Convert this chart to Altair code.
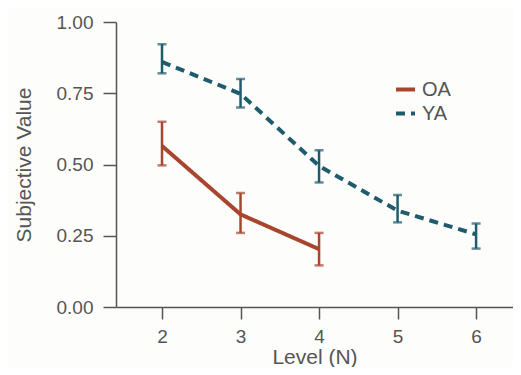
import altair as alt
import pandas as pd

levels_oa = [2, 3, 4]
mean_oa = [0.565, 0.325, 0.203]
lo_oa = [0.497, 0.26, 0.146]
hi_oa = [0.65, 0.40, 0.26]

levels_ya = [2, 3, 4, 5, 6]
mean_ya = [0.86, 0.748, 0.495, 0.338, 0.255]
lo_ya = [0.82, 0.70, 0.437, 0.297, 0.205]
hi_ya = [0.922, 0.80, 0.55, 0.393, 0.293]

rows = []
for g, lv, m, lo, hi in [("OA", levels_oa, mean_oa, lo_oa, hi_oa), ("YA", levels_ya, mean_ya, lo_ya, hi_ya)]:
    for a, b, c, d in zip(lv, m, lo, hi):
        rows.append({"group": g, "level": a, "value": b, "lo": c, "hi": d})
df = pd.DataFrame(rows)

colors = ["#a9442f", "#1e5b6d"]
font = "Liberation Sans"
txt = "#555555"

xs = alt.Scale(domain=[1.414, 6.47], nice=False, zero=False)
ys = alt.Scale(domain=[0, 1], nice=False)
cs = alt.Scale(domain=["OA", "YA"], range=colors)

base = alt.Chart(df)

lines = base.mark_line(strokeWidth=4).encode(
    x=alt.X("level:Q", scale=xs, title="Level (N)",
            axis=alt.Axis(values=[2, 3, 4, 5, 6], format="d", tickSize=12,
                          labelPadding=8, titlePadding=0)),
    y=alt.Y("value:Q", scale=ys, title="Subjective Value",
            axis=alt.Axis(values=[0, 0.25, 0.5, 0.75, 1.0], format=".2f",
                          tickSize=13, labelPadding=10, titlePadding=22)),
    color=alt.Color("group:N", scale=cs, title=None,
                    legend=alt.Legend(orient="none", legendX=278, legendY=56,
                                      symbolType="stroke", symbolStrokeWidth=4,
                                      symbolSize=361, labelFontSize=20,
                                      labelFont=font, labelColor=txt,
                                      rowPadding=2, labelOffset=5)),
    strokeDash=alt.StrokeDash("group:N", scale=alt.Scale(domain=["OA", "YA"], range=[[1, 0], [9, 6]]), legend=None),
)

rules = base.mark_rule(strokeWidth=2.5).encode(
    x="level:Q", y="lo:Q", y2="hi:Q",
    color=alt.Color("group:N", scale=cs, legend=None),
)
caps_hi = base.mark_tick(thickness=2.5, size=9, orient="horizontal").encode(
    x="level:Q", y="hi:Q", color=alt.Color("group:N", scale=cs, legend=None))
caps_lo = base.mark_tick(thickness=2.5, size=9, orient="horizontal").encode(
    x="level:Q", y="lo:Q", color=alt.Color("group:N", scale=cs, legend=None))

chart = alt.layer(lines, rules, caps_hi, caps_lo).properties(
    width=397, height=285,
    autosize=alt.AutoSizeParams(type="none"),
    padding={"left": 108, "top": 14, "right": 0, "bottom": 60},
    background="#fdfdfb",
).configure_view(stroke=None).configure_axis(
    grid=False, domainColor=txt, domainWidth=1.5, tickColor=txt, tickWidth=1.5,
    labelFont=font, labelFontSize=19, labelColor=txt,
    titleFont=font, titleFontSize=21, titleColor=txt, titleFontWeight="normal",
)

chart.save("out.html", embed_options={"renderer": "svg", "actions": False})
